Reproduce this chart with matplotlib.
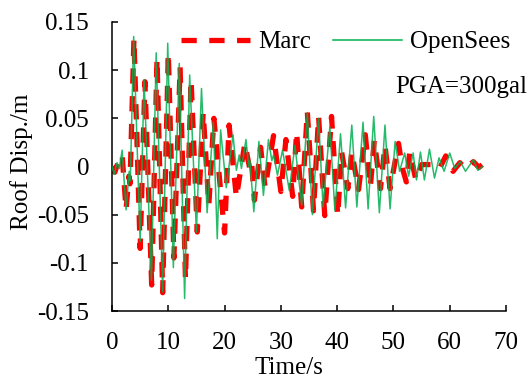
import matplotlib
matplotlib.use("Agg")
import matplotlib.pyplot as plt

plt.rcParams['font.family'] = ['Liberation Serif', 'DejaVu Serif']
plt.rcParams['axes.unicode_minus'] = False
plt.rcParams['lines.scale_dashes'] = False

# ---- data (extremes) ----
marc_t = [0.0, 0.5, 1.0, 1.8, 2.5, 3.0, 3.2, 3.9, 5.0, 5.85, 7.05, 8.0, 9.0, 10.0,
          11.0, 12.1, 13.05, 14.05, 15.15, 16.2, 17.2, 18.1, 20.0, 20.8, 22.1, 23.6,
          24.5, 24.8, 25.3, 26.4, 27.2, 28.7, 30.0, 30.9, 32.1, 32.8, 33.7, 34.7,
          35.8, 36.7, 37.8, 39.0, 40.1, 40.8, 41.9, 42.6, 43.8, 45.0, 45.9, 46.6,
          47.7, 48.5, 49.4, 50.9, 51.6, 52.3, 52.9, 54.0, 55.0, 57.4, 58.2, 59.3,
          60.6, 61.8, 62.7, 64.2, 65.2, 66.0, 67.0]
marc_v = [0.0, -0.006, 0.003, 0.012, -0.045, -0.010, -0.018, 0.133, -0.085, 0.088,
          -0.123, 0.112, -0.131, 0.118, -0.095, 0.103, -0.117, 0.090, -0.068, 0.056,
          -0.040, 0.050, -0.069, 0.043, -0.032, 0.024, -0.003, 0.004, -0.035, 0.020,
          -0.022, 0.032, -0.026, 0.028, -0.031, 0.036, -0.042, 0.057, -0.046, 0.052,
          -0.051, 0.052, -0.051, 0.015, -0.023, 0.015, -0.024, 0.033, -0.021, 0.027,
          -0.023, 0.022, -0.023, 0.024, -0.002, -0.016, 0.015, -0.014, 0.002, 0.002,
          -0.002, 0.011, -0.005, 0.004, -0.002, 0.005, -0.001, 0.003, 0.0]

opensees_t = [0.0, 0.4, 0.9, 1.3, 1.8, 2.5, 3.05, 3.25, 3.85, 5.0, 5.7, 7.0, 7.85,
              9.0, 9.9, 10.9, 11.95, 12.9, 13.8, 15.0, 15.9, 16.9, 18.0, 18.7, 19.3,
              20.3, 21.5, 22.1, 22.6, 23.0, 23.8, 24.3, 24.5, 25.2, 26.1, 26.9, 27.8,
              28.4, 28.7, 29.4, 30.3, 31.5, 32.5, 33.7, 34.7, 35.6, 36.7, 37.5, 38.7,
              39.6, 40.6, 41.5, 42.6, 43.5, 44.6, 45.5, 46.5, 47.5, 48.5, 49.4, 50.3,
              51.1, 52.0, 52.7, 53.5, 54.1, 54.8, 55.5, 56.4, 57.3, 58.1, 59.0, 60.0,
              60.9, 61.9, 62.8, 64.2, 65.0, 65.8]
opensees_v = [0.0, -0.008, 0.004, -0.002, 0.017, -0.045, -0.005, -0.015, 0.135,
              -0.078, 0.090, -0.118, 0.118, -0.130, 0.128, -0.105, 0.107, -0.137,
              0.095, -0.068, 0.081, -0.048, 0.046, -0.075, 0.038, -0.022, 0.033,
              -0.004, 0.012, -0.002, 0.028, 0.000, 0.006, -0.047, 0.026, -0.030,
              0.028, 0.006, 0.012, -0.009, 0.017, -0.025, 0.022, -0.040, 0.056,
              -0.050, 0.050, -0.042, 0.041, -0.046, 0.034, -0.043, 0.043, -0.042,
              0.046, -0.044, 0.052, -0.048, 0.043, -0.044, 0.026, -0.005, 0.014,
              -0.010, 0.014, -0.014, 0.015, -0.014, 0.018, -0.012, 0.009, -0.005,
              0.014, -0.002, 0.005, -0.005, 0.007, -0.004, 0.0]

x_ticks = [0, 10, 20, 30, 40, 50, 60, 70]
y_ticks = [-0.15, -0.1, -0.05, 0, 0.05, 0.1, 0.15]
y_tick_labels = ['-0.15', '-0.1', '-0.05', '0', '0.05', '0.1', '0.15']

W, H = 531, 385
fig = plt.figure(figsize=(W / 100, H / 100), dpi=100)
ax = fig.add_axes([112 / W, 1 - 311 / H, 394 / W, 289 / H])

l1, = ax.plot(marc_t, marc_v, color='#FF0000', lw=3.8, dashes=(11, 9),
              label='Marc', zorder=2)
l2, = ax.plot(opensees_t, opensees_v, color='#00B050', lw=1.1, alpha=0.85,
              label='OpenSees', zorder=3)

ax.set_xlim(0, 70)
ax.set_ylim(-0.15, 0.15)
ax.set_xticks(x_ticks)
ax.set_xticklabels([str(v) for v in x_ticks])
ax.set_yticks(y_ticks)
ax.set_yticklabels(y_tick_labels)
ax.tick_params(direction='in', length=4.3, width=1.1, labelsize=18, colors='black')
ax.tick_params(axis='y', pad=16.5)
ax.tick_params(axis='x', pad=15)
for s in ['top', 'right']:
    ax.spines[s].set_visible(False)
for s in ['left', 'bottom']:
    ax.spines[s].set_linewidth(1.1)

fig.text(22 / W, 1 - 162 / H, 'Roof Disp./m', rotation=90, ha='center',
         va='center', fontsize=18)
fig.text(289 / W, 1 - 368 / H, 'Time/s', ha='center', va='center', fontsize=18)
fig.text(527 / W, 1 - 87 / H, 'PGA=300gal', ha='right', va='center', fontsize=18)

leg = fig.legend(handles=[l1, l2], loc='center left',
                 bbox_to_anchor=(181 / W, 1 - 42 / H), ncol=2, frameon=False,
                 fontsize=18, handlelength=2.76, handletextpad=0.32,
                 columnspacing=0.88, borderpad=0, borderaxespad=0)
for lh in leg.get_lines():
    lh.set_alpha(1)

fig.savefig('out.png', dpi=100)
